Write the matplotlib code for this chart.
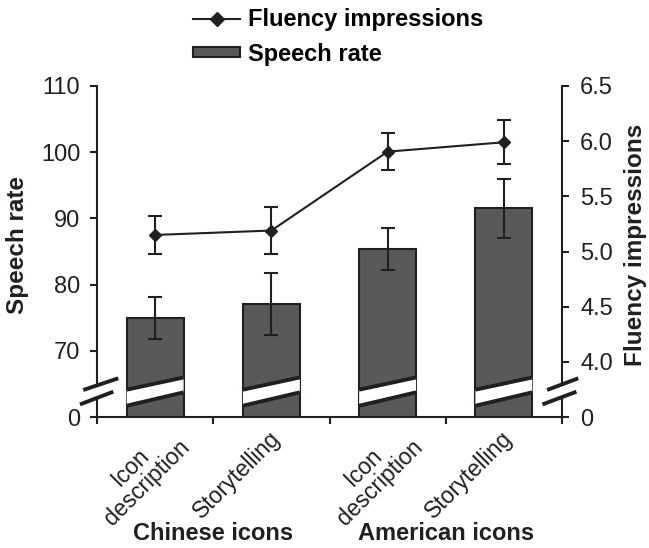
import matplotlib
matplotlib.use('Agg')
import matplotlib.pyplot as plt
import numpy as np
from matplotlib.lines import Line2D
from matplotlib.patches import Patch, Polygon

plt.rcParams['font.family'] = ['Liberation Sans', 'DejaVu Sans']

# data
conditions = ['Icon\ndescription', 'Storytelling', 'Icon\ndescription', 'Storytelling']
groups = ['Chinese icons', 'American icons']
speech_rate = [75.0, 77.1, 85.4, 91.5]
speech_se = [3.2, 4.7, 3.2, 4.45]
fluency = [5.15, 5.19, 5.905, 5.99]
fluency_se = [0.174, 0.212, 0.169, 0.2]

# broken axes: the lowest tick stands for 0
left_ticks = [60, 70, 80, 90, 100, 110]
left_labels = ['0', '70', '80', '90', '100', '110']
right_ticks = [3.5, 4.0, 4.5, 5.0, 5.5, 6.0, 6.5]
right_labels = ['0', '4.0', '4.5', '5.0', '5.5', '6.0', '6.5']

ink = '#231f20'
bar_color = '#58595b'
W, H = 649, 548

fig = plt.figure(figsize=(W / 100, H / 100), dpi=100)
ax = fig.add_axes([97 / W, 1 - 417 / H, 465 / W, 331 / H])
ax2 = ax.twinx()

x = np.arange(len(conditions))
base = left_ticks[0]
bar_w = 0.49
ax.bar(x, np.array(speech_rate) - base, bottom=base, width=bar_w,
       color=bar_color, edgecolor=ink, linewidth=1.5, zorder=2)
ax.errorbar(x, speech_rate, yerr=speech_se, fmt='none', ecolor=ink,
            elinewidth=1.5, capsize=5, capthick=1.5, zorder=3)

ax2.errorbar(x, fluency, yerr=fluency_se, color=ink, lw=1.5, marker='D',
             ms=6.5, capsize=5, elinewidth=1.5, capthick=1.5, zorder=3)


def draw_break(axis, lo, hi, transform, z=6):
    # lo / hi: ((x0, y0), (x1, y1)) for the two black strokes
    poly = Polygon([lo[0], lo[1], hi[1], hi[0]], closed=True, facecolor='white',
                   edgecolor='none', transform=transform, clip_on=False, zorder=z)
    axis.add_patch(poly)
    for seg in (lo, hi):
        ln = Line2D([seg[0][0], seg[1][0]], [seg[0][1], seg[1][1]], color=ink,
                    lw=2.8, transform=transform, clip_on=False, zorder=z + 1,
                    solid_capstyle='butt')
        axis.add_line(ln)


# white strips across the bars
bar_tr = ax.get_xaxis_transform()
for xi in x:
    xl, xr = xi - bar_w / 2, xi + bar_w / 2
    draw_break(ax, ((xl, 0.034), (xr, 0.0745)), ((xl, 0.0825), (xr, 0.1195)), bar_tr)

# break marks on both value axes
draw_break(ax2, ((-0.0366, 0.038), (0.035, 0.0764)),
           ((-0.0295, 0.0816), (0.0458, 0.117)), ax2.transAxes)
draw_break(ax2, ((0.958, 0.038), (1.031, 0.0764)),
           ((0.968, 0.0816), (1.035, 0.117)), ax2.transAxes)

ax.set_xlim(-0.5, len(conditions) - 0.5)
ax.set_ylim(left_ticks[0], left_ticks[-1])
ax2.set_ylim(right_ticks[0], right_ticks[-1])

ax.set_yticks(left_ticks, left_labels)
ax2.set_yticks(right_ticks, right_labels)
ax.set_xticks(np.arange(len(conditions) + 1) - 0.5)
ax.set_xticklabels([])

ax.tick_params(axis='both', direction='out', length=5, width=1.5, color=ink,
               labelsize=17, labelcolor=ink, pad=7)
ax2.tick_params(axis='y', direction='out', length=5, width=1.5, color=ink,
                labelsize=17, labelcolor=ink, pad=8)

for s in ['top', 'right']:
    ax.spines[s].set_visible(False)
for s in ['top', 'left', 'bottom']:
    ax2.spines[s].set_visible(False)
for s in ['left', 'bottom']:
    ax.spines[s].set_linewidth(1.5)
    ax.spines[s].set_color(ink)
ax2.spines['right'].set_linewidth(1.5)
ax2.spines['right'].set_color(ink)

# condition labels, rotated
xt = ax.get_xaxis_transform()
for xi, lab in zip(x, conditions):
    dx = -16 if '\n' in lab else -35
    ax.annotate(lab, xy=(xi, 0), xycoords=xt, xytext=(dx, -58),
                textcoords='offset pixels', rotation=45, ha='center', va='center',
                rotation_mode='anchor', multialignment='center', fontsize=16.5,
                linespacing=1.0, color=ink, annotation_clip=False)

# group labels
for gi, g in enumerate(groups):
    ax.annotate(g, xy=(2 * gi + 0.5, 0), xycoords=xt, xytext=(0, -116),
                textcoords='offset pixels', ha='center', va='center',
                fontsize=17, fontweight='bold', color=ink, annotation_clip=False)

ax.set_ylabel('Speech rate', fontsize=17.5, fontweight='bold', color=ink)
ax.yaxis.label.set_va('center')
ax.yaxis.set_label_coords(-0.172, 0.52)
ax2.set_ylabel('Fluency impressions', fontsize=17.5, fontweight='bold', color=ink)
ax2.yaxis.label.set_va('center')
ax2.yaxis.set_label_coords(1.157, 0.52)

handles = [Line2D([], [], color=ink, lw=1.5, marker='D', ms=7),
           Patch(facecolor=bar_color, edgecolor=ink, lw=1.5)]
fig.legend(handles=handles, labels=['Fluency impressions', 'Speech rate'],
           loc='upper left', bbox_to_anchor=(193 / W, 1 - 8 / H), frameon=False,
           borderpad=0, borderaxespad=0, handlelength=2.0, handletextpad=0.35,
           labelspacing=0.5, handleheight=0.28,
           prop={'weight': 'bold', 'size': 17})

fig.savefig('out.png', dpi=100)
